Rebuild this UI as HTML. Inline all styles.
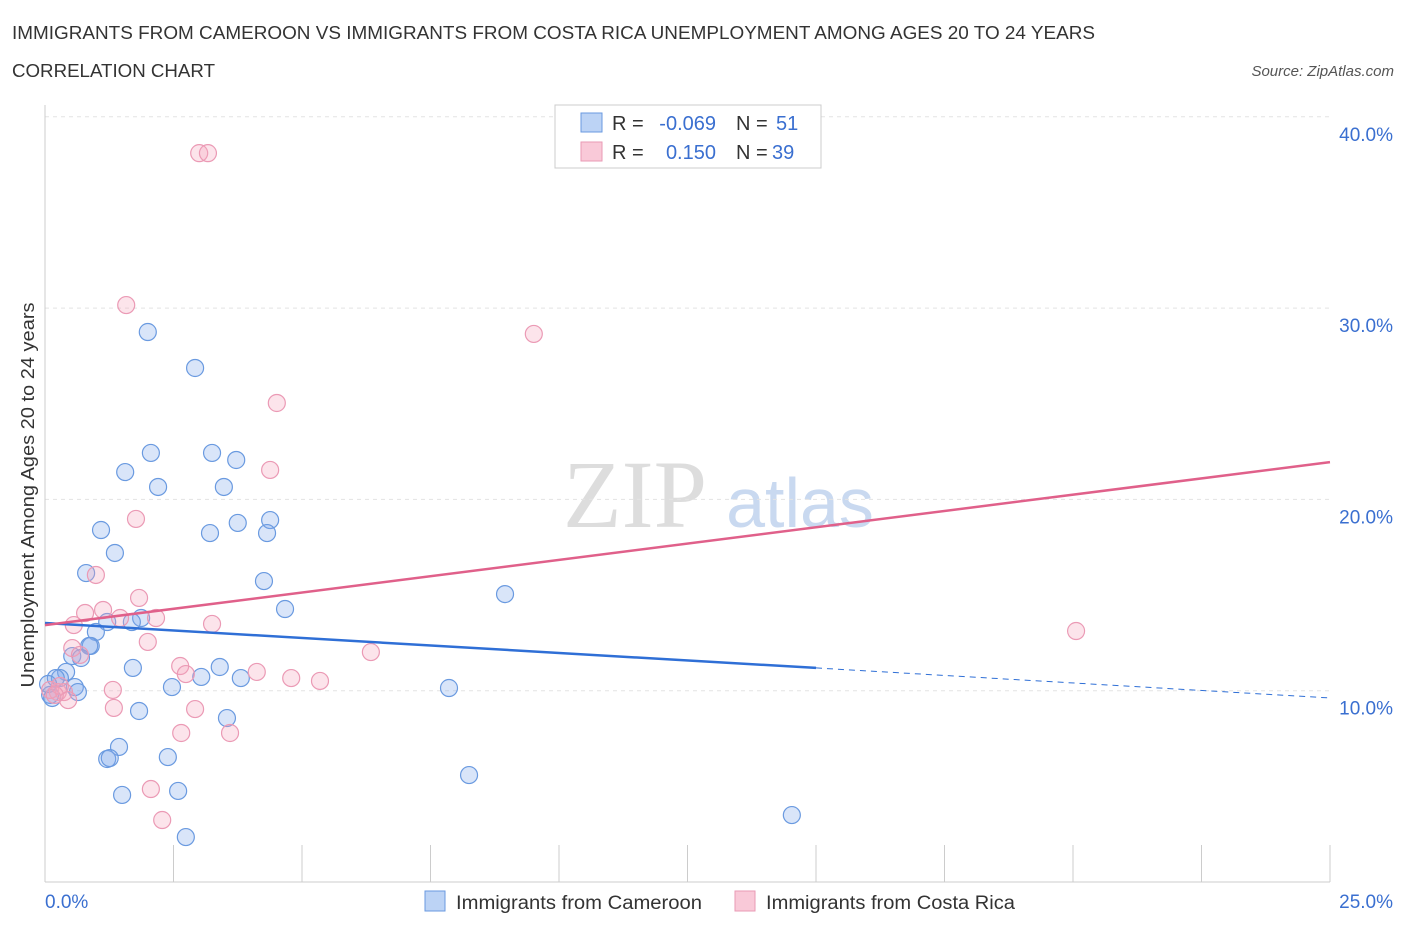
<!DOCTYPE html>
<html><head><meta charset="utf-8"><style>
body{margin:0;background:#fff;font-family:"Liberation Sans",sans-serif;}
</style></head><body>
<svg id="c" width="1406" height="930" xmlns="http://www.w3.org/2000/svg">
<text x="12" y="39" font-size="18" fill="#333" textLength="1083" lengthAdjust="spacingAndGlyphs">IMMIGRANTS FROM CAMEROON VS IMMIGRANTS FROM COSTA RICA UNEMPLOYMENT AMONG AGES 20 TO 24 YEARS</text>
<text x="12" y="77" font-size="18" fill="#333" textLength="203" lengthAdjust="spacingAndGlyphs">CORRELATION CHART</text>
<text x="1394" y="76" font-size="15" fill="#555" font-style="italic" text-anchor="end">Source: ZipAtlas.com</text>
<text x="635" y="527" font-size="96" fill="#ddd" font-family="Liberation Serif,serif" text-anchor="middle">ZIP</text>
<text x="800" y="527" font-size="70" fill="#c9d9f0" text-anchor="middle">atlas</text>
<g id="grid"></g><g id="pts"></g><g id="lines"></g>
<text transform="translate(34,495) rotate(-90)" font-size="18" fill="#333" text-anchor="middle" textLength="385" lengthAdjust="spacingAndGlyphs">Unemployment Among Ages 20 to 24 years</text>
<g>
<rect x="555" y="105" width="266" height="63" fill="#fff" stroke="#ccc"/>
<rect x="581" y="113" width="21" height="19" fill="#bcd3f5" stroke="#6a9ae0"/>
<rect x="581" y="142" width="21" height="19" fill="#f9c9d8" stroke="#e99ab5"/>
<text x="612" y="130" font-size="20" fill="#333">R =</text>
<text x="716" y="130" font-size="20" fill="#3a6fd0" text-anchor="end">-0.069</text>
<text x="736" y="130" font-size="20" fill="#333">N =</text>
<text x="776" y="130" font-size="20" fill="#3a6fd0">51</text>
<text x="612" y="159" font-size="20" fill="#333">R =</text>
<text x="716" y="159" font-size="20" fill="#3a6fd0" text-anchor="end">0.150</text>
<text x="736" y="159" font-size="20" fill="#333">N =</text>
<text x="772" y="159" font-size="20" fill="#3a6fd0">39</text>
</g>
<g>
<rect x="425" y="891" width="20" height="20" fill="#bcd3f5" stroke="#6a9ae0"/>
<text x="456" y="909" font-size="19" fill="#333" textLength="246" lengthAdjust="spacingAndGlyphs">Immigrants from Cameroon</text>
<rect x="735" y="891" width="20" height="20" fill="#f9c9d8" stroke="#e99ab5"/>
<text x="766" y="909" font-size="19" fill="#333" textLength="249" lengthAdjust="spacingAndGlyphs">Immigrants from Costa Rica</text>
</g>
</svg>
<script>
const yTicks=[10,20,30,40];
const yTickLabels=["10.0%","20.0%","30.0%","40.0%"];
const xTickLabels=["0.0%","25.0%"];
const blueX=[2.0,2.92,2.06,3.25,3.72,1.56,2.2,3.48,3.75,4.38,1.09,3.21,4.32,1.36,0.8,4.26,4.67,8.95,1.87,1.21,1.69,0.99,0.89,0.86,0.53,0.7,1.71,3.4,0.41,0.29,0.21,3.04,3.81,2.47,0.58,0.64,0.1,0.14,7.86,1.83,3.54,1.44,1.21,1.26,2.39,8.25,1.5,2.59,2.74,14.53,0.06];
const blueY=[28.75,26.87,22.43,22.43,22.06,21.43,20.65,20.65,18.77,18.92,18.4,18.24,18.24,17.2,16.15,15.73,14.27,15.05,13.8,13.59,13.59,13.07,12.34,12.34,11.81,11.71,11.19,11.24,10.98,10.66,10.66,10.72,10.66,10.19,10.19,9.93,9.78,9.62,10.14,8.94,8.57,7.06,6.43,6.48,6.53,5.59,4.55,4.76,2.35,3.5,10.35];
const pinkX=[3.0,3.17,1.58,9.51,4.51,4.38,1.77,0.99,1.83,1.13,0.78,2.16,1.46,3.25,0.56,2.0,0.53,0.68,2.63,2.74,4.12,4.79,5.35,6.34,20.06,1.32,0.25,0.1,0.37,0.45,1.34,2.92,2.65,3.6,2.06,2.28,0.29,0.19];
const pinkY=[38.1,38.1,30.16,28.65,25.04,21.54,18.98,16.05,14.85,14.22,14.06,13.8,13.8,13.49,13.43,12.55,12.23,11.87,11.29,10.87,10.98,10.66,10.51,12.02,13.12,10.04,9.93,10.04,9.93,9.51,9.1,9.04,7.79,7.79,4.86,3.24,10.25,9.78];
const blueLine=[13.54,11.19,9.62];const blueLineX=[0,15,25];
const pinkLine=[13.43,21.95];const pinkLineX=[0,25];
const X=v=>45+v*51.4, Y=v=>882-v*19.13;
const NS="http://www.w3.org/2000/svg";
function mk(p,t,a){const e=document.createElementNS(NS,t);for(const k in a)e.setAttribute(k,a[k]);p.appendChild(e);return e;}
const g=document.getElementById('grid');
yTicks.forEach((t,i)=>{
 const l=mk(g,'line',{x1:45,x2:1330,y1:Y(t),y2:Y(t),stroke:'#e3e3e3','stroke-dasharray':'4,4'});
 
 
 const tx=mk(g,'text',{x:1393,y:Y(t)+24,'font-size':19,fill:'#3a6fd0','text-anchor':'end'});tx.textContent=yTickLabels[i];
 
 
});
const ya=mk(g,'line',{x1:45,x2:45,y1:105,y2:882,stroke:'#ccc'});


const xa=mk(g,'line',{x1:45,x2:1330,y1:882,y2:882,stroke:'#ccc'});


for(let i=0;i<=10;i++){const t=mk(g,'line',{x1:X(i*2.5),x2:X(i*2.5),y1:845,y2:882,stroke:'#ccc'});
 
 }
[[0,'start',45],[25,'end',1393]].forEach((d,i)=>{const t=mk(g,'text',{x:d[2],y:908,'font-size':19,fill:'#3a6fd0','text-anchor':d[1]});t.textContent=xTickLabels[i];
 
 });
const p=document.getElementById('pts');
blueX.forEach((x,i)=>{const c=mk(p,'circle',{cx:X(x),cy:Y(blueY[i]),r:8.5,fill:'rgba(130,170,235,0.3)',stroke:'#6a9ae0','stroke-width':1.2});
 
 });
pinkX.forEach((x,i)=>{const c=mk(p,'circle',{cx:X(x),cy:Y(pinkY[i]),r:8.5,fill:'rgba(245,165,190,0.3)',stroke:'#eb9ab5','stroke-width':1.2});
 
 });
const L=document.getElementById('lines');
const b1=mk(L,'line',{x1:X(blueLineX[0]),y1:Y(blueLine[0]),x2:X(blueLineX[1]),y2:Y(blueLine[1]),stroke:'#2f6fd6','stroke-width':2.5});


const b2=mk(L,'line',{x1:X(blueLineX[1]),y1:Y(blueLine[1]),x2:X(blueLineX[2]),y2:Y(blueLine[2]),stroke:'#2f6fd6','stroke-width':1,'stroke-dasharray':'6,5'});


const p1=mk(L,'line',{x1:X(pinkLineX[0]),y1:Y(pinkLine[0]),x2:X(pinkLineX[1]),y2:Y(pinkLine[1]),stroke:'#e0608a','stroke-width':2.5});


</script>
</body></html>
